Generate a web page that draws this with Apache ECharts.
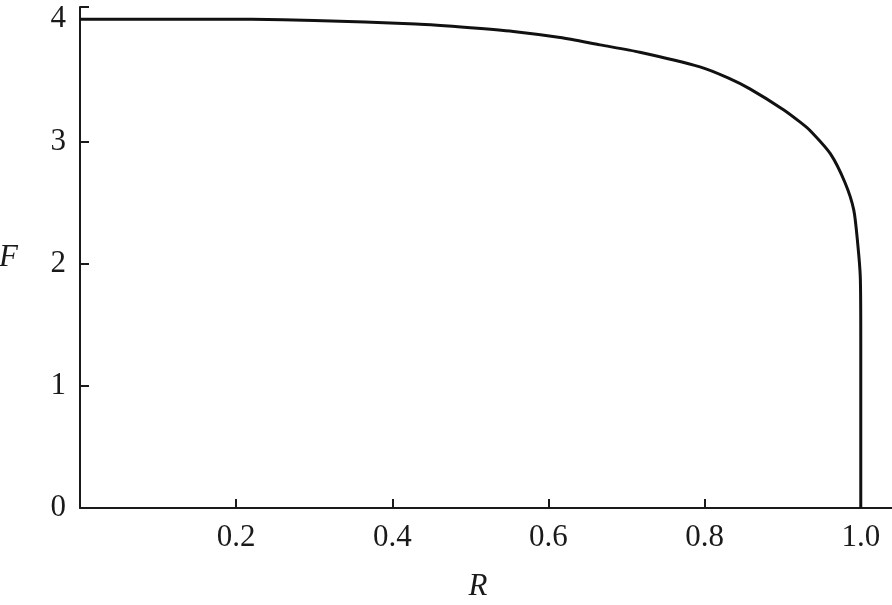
<!DOCTYPE html>
<html>
<head>
<meta charset="utf-8">
<script src="https://cdn.jsdelivr.net/npm/echarts@6/dist/echarts.min.js"></script>
<style>
  html, body { margin: 0; padding: 0; background: #fff; }
  #chart { width: 892px; height: 605px; }
</style>
</head>
<body>
<div id="chart"></div>
<script>
// values
var rValues = [0, 0.1, 0.22, 0.3, 0.43, 0.5, 0.555, 0.615, 0.666, 0.717, 0.794, 0.83, 0.858, 0.901, 0.922, 0.935, 0.961, 0.98, 0.991, 0.996, 0.9994, 1.0, 1.0];
var fValues = [4.0, 4.0, 3.999, 3.99, 3.96, 3.93, 3.90, 3.85, 3.79, 3.73, 3.61, 3.52, 3.43, 3.26, 3.16, 3.09, 2.90, 2.66, 2.44, 2.17, 1.89, 1.4, 0];
var xTicks = [0.2, 0.4, 0.6, 0.8, 1.0];
var yTicks = [0, 1, 2, 3, 4];

var font = "Liberation Serif";
var ink = "#1a1a1a";

var chart = echarts.init(document.getElementById("chart"));

chart.setOption({
  animation: false,
  backgroundColor: "#fff",
  grid: { left: 80, right: 0, top: 7, bottom: 97, containLabel: false, outerBoundsMode: "none" },
  xAxis: {
    type: "value",
    min: 0,
    max: 1.04,
    interval: 0.2,
    name: "R",
    nameLocation: "middle",
    nameGap: 63,
    nameTextStyle: { fontFamily: font, fontStyle: "italic", fontSize: 31, color: ink, padding: [0, 16, 0, 0] },
    axisLine: { lineStyle: { color: ink, width: 2 } },
    axisTick: { inside: true, length: 9, lineStyle: { color: ink, width: 2 } },
    splitLine: { show: false },
    axisLabel: {
      fontFamily: font, fontSize: 31, color: ink, margin: 14,
      formatter: function (v) {
        return xTicks.indexOf(Math.round(v * 10) / 10) >= 0 ? v.toFixed(1) : "";
      }
    }
  },
  yAxis: {
    type: "value",
    min: 0,
    max: 4.1,
    interval: 1,
    name: "F",
    nameLocation: "middle",
    nameGap: 62,
    nameRotate: 0,
    nameTextStyle: { fontFamily: font, fontStyle: "italic", fontSize: 31, color: ink },
    axisLine: { show: true, lineStyle: { color: ink, width: 2 } },
    axisTick: { show: true, inside: true, length: 9, lineStyle: { color: ink, width: 2 } },
    splitLine: { show: false },
    axisLabel: {
      fontFamily: font, fontSize: 31, color: ink, margin: 14,
      formatter: function (v) {
        return yTicks.indexOf(v) >= 0 ? String(v) : "";
      }
    }
  },
  series: [
    {
      type: "line",
      data: rValues.map(function (r, i) { return [r, fValues[i]]; }),
      showSymbol: false,
      smooth: 0.25,
      clip: false,
      lineStyle: { color: "#111", width: 3 }
    }
  ]
});
</script>
</body>
</html>
